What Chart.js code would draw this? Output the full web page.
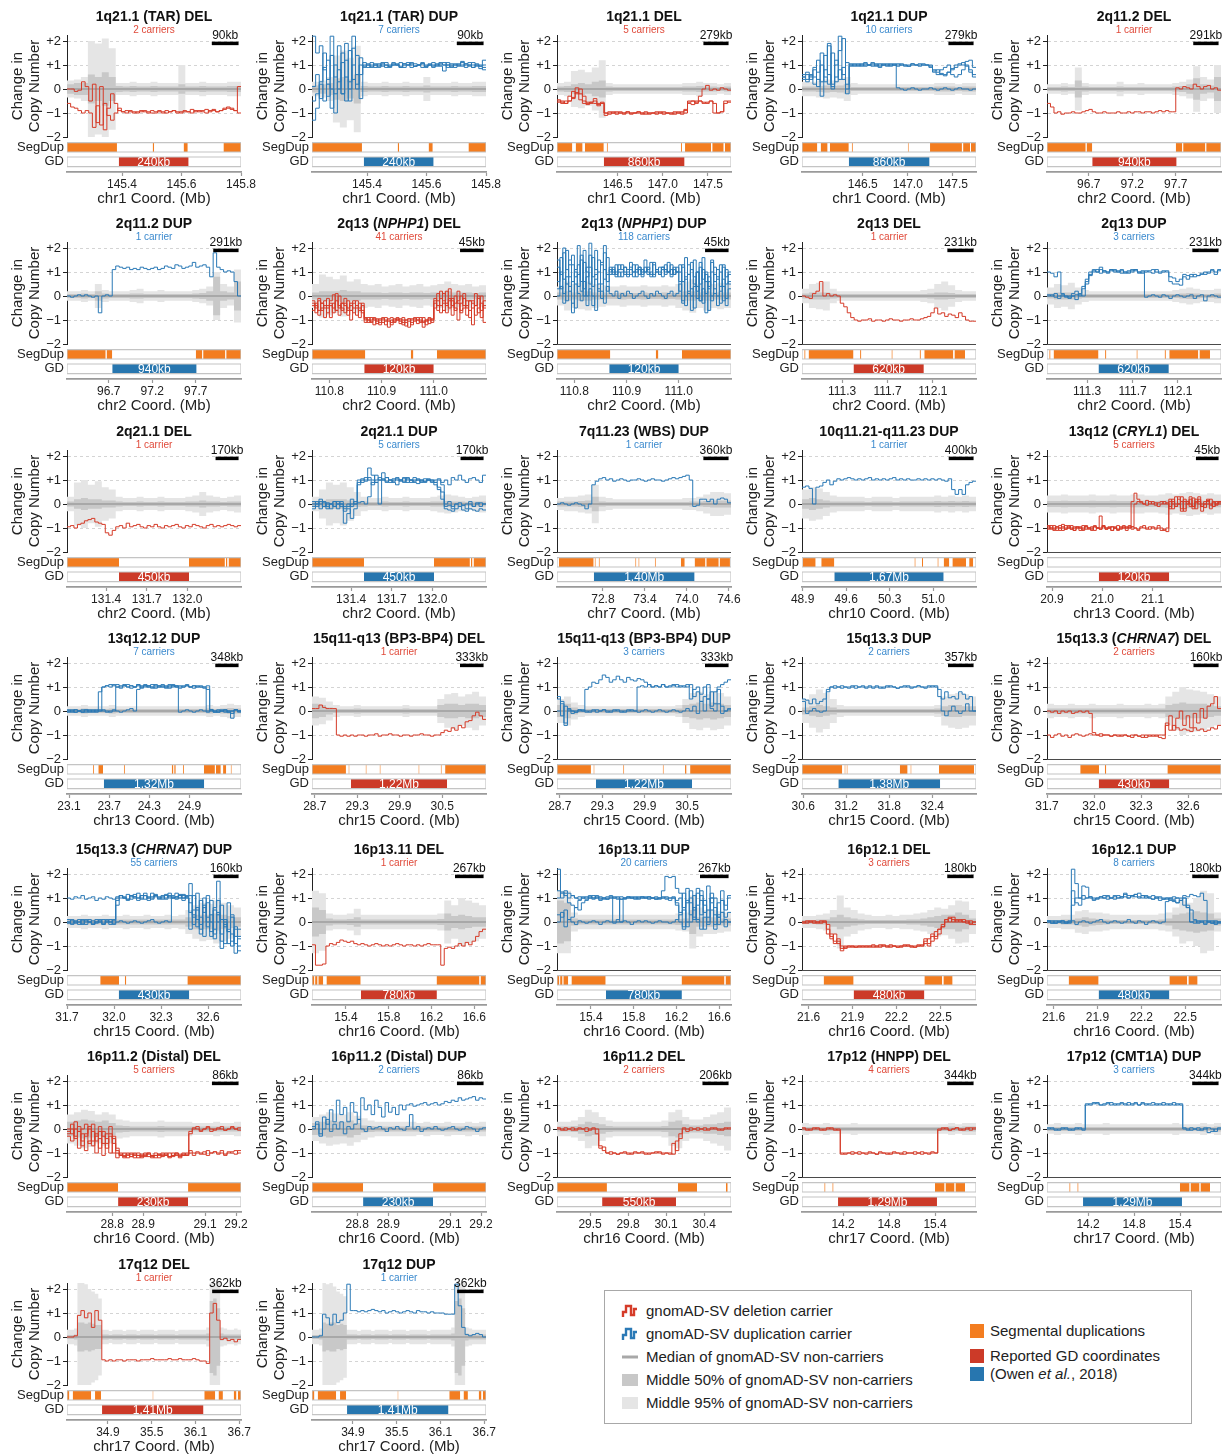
<!DOCTYPE html>
<html><head><meta charset="utf-8">
<script src="https://cdn.jsdelivr.net/npm/chart.js@4.4.1/dist/chart.umd.min.js"></script>
<style>
body{margin:0;background:#fff;font-family:'Liberation Sans',Arial,Helvetica,sans-serif;}
#wrap{position:relative;width:1227px;height:1456px;overflow:hidden;background:#fff;}
.panel{position:absolute;width:245px;height:208px;}
.panel canvas{position:absolute;left:0;top:0;}
.ttl{position:absolute;left:0;width:308px;top:7px;text-align:center;font-weight:bold;font-size:14px;line-height:18px;white-space:nowrap;color:#111;}
.sub{position:absolute;left:0;width:308px;top:24px;text-align:center;font-size:10px;line-height:12px;white-space:nowrap;}
#legend{position:absolute;left:604px;top:1290px;width:588px;height:134px;border:1px solid #a8a8a8;box-sizing:border-box;}
.li{position:absolute;font-size:15px;line-height:18px;color:#222;white-space:nowrap;}
.ic{position:absolute;}
</style></head>
<body><div id="wrap"></div>
<script>
// ---------------- data ----------------
const panelTitles = ['1q21.1 (TAR) DEL','1q21.1 (TAR) DUP','1q21.1 DEL','1q21.1 DUP','2q11.2 DEL',
 '2q11.2 DUP','2q13 (<i>NPHP1</i>) DEL','2q13 (<i>NPHP1</i>) DUP','2q13 DEL','2q13 DUP',
 '2q21.1 DEL','2q21.1 DUP','7q11.23 (WBS) DUP','10q11.21-q11.23 DUP','13q12 (<i>CRYL1</i>) DEL',
 '13q12.12 DUP','15q11-q13 (BP3-BP4) DEL','15q11-q13 (BP3-BP4) DUP','15q13.3 DUP','15q13.3 (<i>CHRNA7</i>) DEL',
 '15q13.3 (<i>CHRNA7</i>) DUP','16p13.11 DEL','16p13.11 DUP','16p12.1 DEL','16p12.1 DUP',
 '16p11.2 (Distal) DEL','16p11.2 (Distal) DUP','16p11.2 DEL','17p12 (HNPP) DEL','17p12 (CMT1A) DUP',
 '17q12 DEL','17q12 DUP'];
const carrierLabels = ['2 carriers','7 carriers','5 carriers','10 carriers','1 carrier',
 '1 carrier','41 carriers','118 carriers','1 carrier','3 carriers',
 '1 carrier','5 carriers','1 carrier','1 carrier','5 carriers',
 '7 carriers','1 carrier','3 carriers','2 carriers','2 carriers',
 '55 carriers','1 carrier','20 carriers','3 carriers','8 carriers',
 '5 carriers','2 carriers','2 carriers','4 carriers','3 carriers',
 '1 carrier','1 carrier'];
const svTypes = ['DEL','DUP','DEL','DUP','DEL','DUP','DEL','DUP','DEL','DUP','DEL','DUP','DUP','DUP','DEL',
 'DUP','DEL','DUP','DUP','DEL','DUP','DEL','DUP','DEL','DUP','DEL','DUP','DEL','DEL','DUP','DEL','DUP'];
const scaleBarKb = [90,90,279,279,291,291,45,45,231,231,170,170,360,400,45,348,333,333,357,160,160,267,267,180,180,86,86,206,344,344,362,362];
const chromNames = ['chr1','chr1','chr1','chr1','chr2','chr2','chr2','chr2','chr2','chr2','chr2','chr2','chr7','chr10','chr13',
 'chr13','chr15','chr15','chr15','chr15','chr15','chr16','chr16','chr16','chr16','chr16','chr16','chr16','chr17','chr17','chr17','chr17'];
const xMinMb = [145.215,145.215,145.826,145.826,96.22,96.22,110.767,110.767,110.946,110.946,131.111,131.111,72.144,48.89,20.89,
 23.07,28.66,28.66,30.583,31.7,31.7,15.083,15.083,21.555,21.555,28.654,28.654,29.239,13.664,13.664,34.34,34.34];
const xMaxMb = [145.8,145.8,147.756,147.756,98.22,98.22,111.1,111.1,112.48,112.48,132.396,132.396,74.63,51.69,21.236,
 25.67,31.12,31.12,33.01,32.81,32.81,16.709,16.709,22.745,22.745,29.216,29.216,30.612,15.934,15.934,36.724,36.724];
const xTickMb = [[145.4,145.6,145.8],[145.4,145.6,145.8],[146.5,147.0,147.5],[146.5,147.0,147.5],[96.7,97.2,97.7],
 [96.7,97.2,97.7],[110.8,110.9,111.0],[110.8,110.9,111.0],[111.3,111.7,112.1],[111.3,111.7,112.1],
 [131.4,131.7,132.0],[131.4,131.7,132.0],[72.8,73.4,74.0,74.6],[48.9,49.6,50.3,51.0],[20.9,21.0,21.1],
 [23.1,23.7,24.3,24.9],[28.7,29.3,29.9,30.5],[28.7,29.3,29.9,30.5],[30.6,31.2,31.8,32.4],[31.7,32.0,32.3,32.6],
 [31.7,32.0,32.3,32.6],[15.4,15.8,16.2,16.6],[15.4,15.8,16.2,16.6],[21.6,21.9,22.2,22.5],[21.6,21.9,22.2,22.5],
 [28.8,28.9,29.1,29.2],[28.8,28.9,29.1,29.2],[29.5,29.8,30.1,30.4],[14.2,14.8,15.4],[14.2,14.8,15.4],
 [34.9,35.5,36.1,36.7],[34.9,35.5,36.1,36.7]];
const gdMb = [[145.389,145.624],[145.389,145.624],[146.345,147.241],[146.345,147.241],[96.74,97.71],
 [96.74,97.71],[110.867,111.0],[110.867,111.0],[111.40,112.02],[111.40,112.02],
 [131.495,132.012],[131.495,132.012],[72.67,74.11],[49.41,51.17],[20.993,21.133],
 [23.62,25.12],[29.21,30.57],[29.21,30.57],[31.09,32.51],[32.03,32.48],
 [32.03,32.48],[15.54,16.25],[15.54,16.25],[21.908,22.392],[21.908,22.392],
 [28.819,29.045],[28.819,29.045],[29.595,30.178],[14.134,15.425],[14.134,15.425],
 [34.82,36.21],[34.82,36.21]];
const gdLabels = ['240kb','240kb','860kb','860kb','940kb','940kb','120kb','120kb','620kb','620kb','450kb','450kb','1.40Mb','1.67Mb','120kb',
 '1.32Mb','1.22Mb','1.22Mb','1.38Mb','430kb','430kb','780kb','780kb','480kb','480kb','230kb','230kb','550kb','1.29Mb','1.29Mb','1.41Mb','1.41Mb'];
const segDupMb = [
 [[145.215,145.383],[145.503,145.508],[145.607,145.621],[145.741,145.8]],
 [[145.215,145.383],[145.503,145.508],[145.607,145.621],[145.741,145.8]],
 [[145.826,145.996],[146.033,146.110],[146.135,146.345],[146.378,146.39],[147.2,147.212],[147.246,147.535],[147.548,147.675],[147.688,147.756]],
 [[145.826,145.996],[146.033,146.110],[146.135,146.345],[146.378,146.39],[147.0,147.01],[147.246,147.6],[147.613,147.69],[147.7,147.756]],
 [[96.22,96.665],[96.675,96.74],[97.70,97.775],[97.785,98.04],[98.05,98.22]],
 [[96.22,96.665],[96.675,96.74],[97.70,97.775],[97.785,98.04],[98.05,98.22]],
 [[110.767,110.869],[110.956,110.961],[111.006,111.1]],
 [[110.767,110.869],[110.956,110.961],[111.006,111.1]],
 [[110.966,110.977],[111.004,111.40],[111.458,111.469],[111.735,111.745],[111.983,111.994],[112.024,112.28],[112.29,112.383]],
 [[110.966,110.977],[111.004,111.40],[111.458,111.469],[111.735,111.745],[111.983,111.994],[112.024,112.28],[112.29,112.383]],
 [[131.111,131.495],[132.012,132.277],[132.285,132.296],[132.304,132.396]],
 [[131.111,131.495],[132.012,132.277],[132.285,132.296],[132.304,132.396]],
 [[72.171,72.668],[72.682,72.697],[72.74,72.755],[73.262,73.277],[73.307,73.322],[73.542,73.556],[73.914,73.969],[74.11,74.265],[74.277,74.455],[74.467,74.615]],
 [[48.90,49.11],[49.20,49.41],[50.70,50.718],[50.82,50.838],[51.07,51.088],[51.17,51.26],[51.31,51.53],[51.58,51.645]],
 [],
 [[23.46,23.475],[23.538,23.608],[23.92,23.935],[24.635,24.66],[24.672,24.695],[24.802,24.817],[25.116,25.28],[25.296,25.368],[25.402,25.449],[25.516,25.531]],
 [[28.66,29.14],[29.176,29.19],[29.418,29.432],[29.616,29.63],[30.165,30.179],[30.48,30.494],[30.542,31.12]],
 [[28.66,29.14],[29.176,29.19],[29.596,29.61],[30.155,30.169],[30.47,30.484],[30.49,30.5],[30.542,31.12]],
 [[30.583,31.144],[31.176,31.19],[31.205,31.219],[31.947,32.056],[32.096,32.11],[32.493,32.983]],
 [[31.912,32.032],[32.069,32.078],[32.468,32.81]],
 [[31.912,32.032],[32.069,32.078],[32.468,32.81]],
 [[15.083,15.105],[15.112,15.135],[15.142,15.188],[15.218,15.538],[16.247,16.648],[16.658,16.709]],
 [[15.083,15.105],[15.112,15.135],[15.142,15.188],[15.218,15.538],[16.247,16.648],[16.658,16.709]],
 [[21.703,21.908],[22.392,22.514],[22.522,22.585]],
 [[21.703,21.908],[22.392,22.514],[22.522,22.585]],
 [[28.654,28.819],[29.045,29.216]],
 [[28.654,28.819],[29.045,29.216]],
 [[29.239,29.633],[30.193,30.344],[30.572,30.586]],
 [[13.955,13.97],[14.06,14.075],[15.398,15.524],[15.536,15.654],[15.666,15.791]],
 [[13.955,13.97],[14.06,14.075],[15.398,15.524],[15.536,15.654],[15.666,15.791]],
 [[34.34,34.373],[34.418,34.671],[34.724,34.807],[35.512,35.524],[36.221,36.371],[36.416,36.476],[36.624,36.662],[36.681,36.724]],
 [[34.34,34.373],[34.418,34.671],[34.724,34.807],[35.512,35.524],[36.221,36.371],[36.416,36.476],[36.624,36.662],[36.681,36.724]]
];
// non-carrier half-widths (middle 95% and middle 50%), equal bins across each panel
const nonCarrier95 = [
 [0.35,0.4,0.5,2.0,1.9,2.1,1.7,0.25,0.25,0.3,0.25,0.25,0.3,0.25,0.25,0.25,1.0,0.25,0.25,0.3,0.25,0.25,0.25,0.3,0.3],
 [0.3,0.35,0.5,1.4,1.6,1.3,1.8,0.3,0.25,0.25,0.3,0.25,0.25,0.3,0.25,0.25,0.5,0.25,0.25,0.25,0.3,0.25,0.25,0.3,0.3],
 [0.25,0.3,0.75,0.8,0.7,0.9,1.2,0.25,0.2,0.2,0.2,0.2,0.2,0.2,0.2,0.2,0.2,0.2,0.25,0.25,0.3,0.25,0.25,0.2,0.25],
 [0.3,0.3,0.35,0.4,0.35,0.4,0.5,0.25,0.2,0.2,0.2,0.2,0.2,0.2,0.2,0.2,0.2,0.2,0.2,0.25,0.25,0.25,0.2,0.25,0.25],
 [0.2,0.2,0.25,0.2,0.9,0.25,0.2,0.2,0.2,0.2,0.3,0.2,0.2,0.25,0.2,0.2,0.2,0.2,0.25,0.3,0.4,0.95,0.5,0.4,1.0],
 [0.2,0.2,0.25,0.2,0.5,0.25,0.2,0.2,0.2,0.25,0.3,0.2,0.2,0.25,0.2,0.2,0.2,0.2,0.25,0.3,0.4,1.0,0.5,0.4,1.1],
 [0.5,0.9,0.8,0.7,0.85,0.6,0.7,0.5,0.45,0.5,0.4,0.45,0.5,0.4,0.45,0.5,0.4,0.45,0.5,0.6,0.5,0.45,0.5,0.4,0.45],
 [0.4,0.6,0.5,0.55,0.6,0.5,0.45,0.4,0.4,0.45,0.4,0.4,0.45,0.4,0.4,0.45,0.4,0.5,0.6,0.7,0.5,0.6,0.5,0.55,0.5],
 [0.3,0.5,0.55,0.6,0.3,0.2,0.2,0.2,0.2,0.2,0.2,0.2,0.2,0.2,0.2,0.2,0.2,0.25,0.3,0.5,0.6,0.45,0.25,0.2,0.2],
 [0.35,0.5,0.45,0.55,0.35,0.25,0.2,0.2,0.2,0.2,0.2,0.2,0.2,0.2,0.2,0.2,0.2,0.2,0.25,0.3,0.35,0.3,0.25,0.25,0.3],
 [0.3,0.9,1.0,0.8,0.95,0.7,0.6,0.3,0.25,0.25,0.3,0.25,0.25,0.3,0.25,0.25,0.25,0.3,0.35,0.5,0.35,0.3,0.25,0.3,0.35],
 [0.3,0.6,0.9,0.8,0.9,0.7,0.5,0.3,0.25,0.25,0.3,0.25,0.25,0.3,0.25,0.25,0.25,0.3,0.35,0.4,0.35,0.3,0.25,0.3,0.35],
 [0.25,0.3,0.3,0.35,0.4,0.8,0.3,0.25,0.2,0.2,0.2,0.2,0.2,0.2,0.2,0.2,0.2,0.2,0.25,0.25,0.3,0.4,0.5,0.5,0.45],
 [0.6,0.7,0.65,0.5,0.35,0.3,0.3,0.3,0.3,0.25,0.3,0.3,0.3,0.25,0.3,0.3,0.3,0.3,0.3,0.35,0.3,0.35,0.3,0.35,0.3],
 [0.35,0.35,0.4,0.35,0.35,0.35,0.4,0.35,0.35,0.4,0.35,0.35,0.4,0.4,0.35,0.35,0.4,0.45,0.4,0.45,0.5,0.45,0.4,0.45,0.4],
 [0.2,0.2,0.25,0.2,0.2,0.2,0.25,0.2,0.2,0.2,0.2,0.2,0.2,0.2,0.2,0.2,0.2,0.2,0.2,0.2,0.25,0.2,0.25,0.3,0.25],
 [0.6,0.55,0.4,0.25,0.2,0.2,0.25,0.2,0.2,0.2,0.2,0.2,0.2,0.25,0.2,0.2,0.2,0.2,0.5,0.7,0.75,0.6,0.7,0.8,0.6],
 [0.5,0.6,0.35,0.25,0.2,0.2,0.2,0.2,0.2,0.2,0.2,0.2,0.2,0.2,0.2,0.2,0.2,0.25,0.5,0.75,0.8,0.7,0.8,0.75,0.6],
 [0.5,0.7,0.9,0.75,0.5,0.25,0.2,0.2,0.2,0.2,0.2,0.2,0.2,0.2,0.2,0.2,0.2,0.2,0.2,0.25,0.6,0.7,0.75,0.7,0.6],
 [0.3,0.25,0.25,0.3,0.25,0.25,0.3,0.25,0.25,0.25,0.3,0.25,0.25,0.25,0.3,0.25,0.3,0.6,0.8,1.0,0.9,0.85,0.8,0.7,0.6],
 [0.25,0.25,0.3,0.25,0.25,0.3,0.25,0.25,0.3,0.25,0.25,0.3,0.25,0.25,0.3,0.25,0.3,0.5,0.7,0.8,0.75,0.9,0.8,0.7,0.6],
 [1.3,1.2,0.35,0.3,0.3,0.35,0.55,0.3,0.3,0.3,0.3,0.3,0.3,0.3,0.3,0.3,0.3,0.3,0.35,0.9,0.7,1.0,0.9,0.8,0.7],
 [1.3,1.3,0.4,0.3,0.3,0.3,0.3,0.3,0.3,0.3,0.3,0.3,0.3,0.3,0.3,0.3,0.3,0.35,0.4,1.1,0.6,0.5,0.5,0.45,0.4],
 [0.25,0.25,0.3,0.35,0.5,1.1,0.6,0.5,0.35,0.3,0.25,0.25,0.3,0.25,0.3,0.3,0.35,0.4,0.5,0.6,0.55,0.7,0.9,0.85,0.5],
 [0.25,0.25,0.3,0.3,0.45,0.5,0.4,0.4,0.35,0.3,0.3,0.3,0.3,0.3,0.3,0.3,0.35,0.4,0.6,0.9,0.8,1.0,1.3,1.2,0.4],
 [0.6,0.7,0.8,0.75,0.6,0.7,0.6,0.4,0.35,0.3,0.3,0.3,0.3,0.35,0.3,0.3,0.3,0.3,0.25,0.25,0.25,0.3,0.25,0.25,0.3],
 [0.5,0.6,0.7,0.65,0.6,0.7,0.55,0.45,0.35,0.3,0.3,0.3,0.3,0.3,0.3,0.25,0.3,0.25,0.25,0.3,0.25,0.25,0.3,0.25,0.3],
 [0.3,0.3,0.35,0.5,0.8,0.7,0.5,0.35,0.3,0.3,0.3,0.3,0.3,0.3,0.3,0.35,0.7,0.8,0.5,0.4,0.4,0.5,0.6,0.7,0.9],
 [0.25,0.2,0.2,0.25,0.2,0.2,0.2,0.25,0.2,0.2,0.2,0.2,0.2,0.2,0.2,0.2,0.2,0.2,0.2,0.2,0.2,0.25,0.2,0.25,0.25],
 [0.2,0.25,0.2,0.2,0.25,0.2,0.2,0.2,0.25,0.2,0.2,0.2,0.2,0.2,0.2,0.2,0.2,0.2,0.25,0.2,0.2,0.2,0.25,0.2,0.25],
 [0.3,0.3,0.35,2.3,2.3,2.2,2.0,1.9,1.8,1.6,0.3,0.3,0.25,0.3,0.3,0.3,0.25,0.3,0.3,0.3,0.25,0.3,0.3,0.3,0.3,0.25,0.3,0.3,0.3,0.3,0.3,0.25,0.3,0.3,0.3,0.3,0.3,0.3,0.3,0.3,0.4,2.3,2.8,2.4,0.4,0.35,0.3,0.3,0.35,0.3],
 [0.3,0.3,0.35,2.3,2.2,2.3,2.1,1.9,1.8,1.7,0.3,0.3,0.3,0.25,0.3,0.3,0.3,0.25,0.3,0.3,0.3,0.3,0.25,0.3,0.3,0.3,0.3,0.25,0.3,0.3,0.3,0.3,0.3,0.25,0.3,0.3,0.3,0.3,0.3,0.3,0.4,2.3,2.8,2.4,0.4,0.35,0.3,0.3,0.3,0.3]
];
const nonCarrier50 = [
 [0.2,0.25,0.25,0.6,0.5,0.7,0.5,0.12,0.1,0.12,0.1,0.1,0.12,0.1,0.1,0.1,0.2,0.1,0.1,0.12,0.1,0.1,0.1,0.12,0.12],
 [0.15,0.2,0.25,0.45,0.5,0.4,0.6,0.12,0.1,0.1,0.12,0.1,0.1,0.12,0.1,0.1,0.15,0.1,0.1,0.1,0.12,0.1,0.1,0.12,0.12],
 [0.1,0.12,0.2,0.25,0.2,0.3,0.35,0.1,0.08,0.08,0.08,0.08,0.08,0.08,0.08,0.08,0.08,0.08,0.1,0.1,0.12,0.1,0.1,0.08,0.1],
 [0.1,0.1,0.12,0.15,0.12,0.15,0.2,0.08,0.08,0.08,0.08,0.08,0.08,0.08,0.08,0.08,0.08,0.08,0.08,0.1,0.1,0.1,0.08,0.1,0.1],
 [0.08,0.08,0.1,0.08,0.35,0.1,0.08,0.08,0.08,0.08,0.1,0.08,0.08,0.08,0.08,0.08,0.08,0.08,0.1,0.12,0.2,0.45,0.2,0.15,0.5],
 [0.08,0.08,0.1,0.08,0.2,0.1,0.08,0.08,0.08,0.1,0.1,0.08,0.08,0.08,0.08,0.08,0.08,0.08,0.1,0.12,0.2,0.8,0.2,0.15,0.6],
 [0.15,0.2,0.2,0.2,0.25,0.2,0.2,0.15,0.15,0.15,0.12,0.15,0.15,0.12,0.15,0.15,0.12,0.15,0.15,0.2,0.15,0.15,0.15,0.12,0.15],
 [0.15,0.2,0.15,0.2,0.2,0.15,0.15,0.12,0.12,0.15,0.12,0.12,0.15,0.12,0.12,0.15,0.12,0.15,0.2,0.2,0.15,0.2,0.15,0.15,0.15],
 [0.1,0.15,0.15,0.15,0.1,0.08,0.08,0.08,0.08,0.08,0.08,0.08,0.08,0.08,0.08,0.08,0.08,0.08,0.1,0.15,0.15,0.12,0.08,0.08,0.08],
 [0.1,0.15,0.15,0.15,0.1,0.08,0.08,0.08,0.08,0.08,0.08,0.08,0.08,0.08,0.08,0.08,0.08,0.08,0.08,0.1,0.12,0.1,0.08,0.08,0.1],
 [0.1,0.2,0.25,0.2,0.2,0.15,0.15,0.1,0.08,0.08,0.1,0.08,0.08,0.1,0.08,0.08,0.08,0.1,0.1,0.15,0.1,0.1,0.08,0.1,0.1],
 [0.1,0.15,0.2,0.2,0.2,0.15,0.12,0.1,0.08,0.08,0.1,0.08,0.08,0.1,0.08,0.08,0.08,0.1,0.1,0.12,0.1,0.1,0.08,0.1,0.1],
 [0.1,0.1,0.1,0.12,0.15,0.3,0.1,0.08,0.08,0.08,0.08,0.08,0.08,0.08,0.08,0.08,0.08,0.08,0.08,0.1,0.1,0.12,0.15,0.15,0.15],
 [0.2,0.25,0.2,0.15,0.1,0.1,0.1,0.1,0.1,0.08,0.1,0.1,0.1,0.08,0.1,0.1,0.1,0.1,0.1,0.12,0.1,0.12,0.1,0.12,0.1],
 [0.12,0.12,0.14,0.12,0.12,0.12,0.14,0.12,0.12,0.14,0.12,0.12,0.14,0.14,0.12,0.12,0.14,0.16,0.14,0.16,0.18,0.16,0.14,0.16,0.14],
 [0.08,0.08,0.1,0.08,0.08,0.08,0.1,0.08,0.08,0.08,0.08,0.08,0.08,0.08,0.08,0.08,0.08,0.08,0.08,0.08,0.1,0.08,0.1,0.12,0.1],
 [0.3,0.25,0.15,0.08,0.08,0.08,0.1,0.08,0.08,0.08,0.08,0.08,0.08,0.1,0.08,0.08,0.08,0.08,0.25,0.3,0.3,0.25,0.3,0.3,0.25],
 [0.25,0.3,0.15,0.08,0.08,0.08,0.08,0.08,0.08,0.08,0.08,0.08,0.08,0.08,0.08,0.08,0.08,0.1,0.25,0.3,0.35,0.3,0.35,0.3,0.25],
 [0.15,0.2,0.25,0.2,0.15,0.08,0.08,0.08,0.08,0.08,0.08,0.08,0.08,0.08,0.08,0.08,0.08,0.08,0.08,0.1,0.2,0.25,0.25,0.2,0.2],
 [0.1,0.1,0.1,0.1,0.1,0.1,0.1,0.1,0.1,0.1,0.1,0.1,0.1,0.1,0.1,0.1,0.1,0.25,0.3,0.35,0.3,0.3,0.3,0.25,0.2],
 [0.1,0.1,0.1,0.1,0.1,0.1,0.1,0.1,0.1,0.1,0.1,0.1,0.1,0.1,0.1,0.1,0.1,0.2,0.3,0.3,0.3,0.35,0.3,0.25,0.2],
 [0.6,0.5,0.15,0.1,0.1,0.12,0.2,0.1,0.1,0.1,0.1,0.1,0.1,0.1,0.1,0.1,0.1,0.1,0.12,0.35,0.25,0.3,0.25,0.2,0.2],
 [0.9,0.8,0.15,0.1,0.1,0.1,0.1,0.1,0.1,0.1,0.1,0.1,0.1,0.1,0.1,0.1,0.1,0.12,0.15,0.5,0.2,0.2,0.2,0.15,0.15],
 [0.08,0.08,0.1,0.1,0.2,0.3,0.2,0.15,0.1,0.08,0.08,0.08,0.08,0.08,0.08,0.1,0.1,0.15,0.2,0.25,0.3,0.3,0.4,0.3,0.15],
 [0.08,0.08,0.1,0.1,0.15,0.2,0.15,0.12,0.1,0.08,0.08,0.08,0.08,0.08,0.08,0.08,0.1,0.15,0.3,0.35,0.4,0.45,0.4,0.35,0.15],
 [0.3,0.35,0.4,0.35,0.3,0.35,0.25,0.15,0.12,0.1,0.1,0.1,0.1,0.12,0.1,0.1,0.1,0.1,0.1,0.1,0.1,0.1,0.1,0.1,0.1],
 [0.25,0.3,0.35,0.3,0.3,0.35,0.25,0.15,0.12,0.1,0.1,0.1,0.1,0.1,0.1,0.1,0.1,0.1,0.1,0.1,0.1,0.1,0.1,0.1,0.1],
 [0.1,0.1,0.12,0.2,0.3,0.25,0.2,0.12,0.1,0.1,0.1,0.1,0.1,0.1,0.1,0.12,0.3,0.35,0.2,0.15,0.15,0.2,0.2,0.25,0.3],
 [0.08,0.08,0.08,0.08,0.08,0.08,0.08,0.08,0.08,0.08,0.08,0.08,0.08,0.08,0.08,0.08,0.08,0.08,0.08,0.08,0.08,0.1,0.08,0.1,0.1],
 [0.08,0.08,0.08,0.08,0.08,0.08,0.08,0.08,0.08,0.08,0.08,0.08,0.08,0.08,0.08,0.08,0.08,0.08,0.08,0.08,0.08,0.08,0.1,0.08,0.1],
 [0.08,0.08,0.1,0.6,0.6,0.55,0.6,0.55,0.5,0.5,0.1,0.1,0.08,0.1,0.1,0.1,0.08,0.1,0.1,0.1,0.08,0.1,0.1,0.1,0.1,0.08,0.1,0.1,0.1,0.1,0.1,0.08,0.1,0.1,0.1,0.1,0.1,0.1,0.1,0.1,0.15,1.5,1.6,1.2,0.15,0.1,0.1,0.1,0.1,0.1],
 [0.08,0.08,0.1,0.6,0.55,0.6,0.6,0.5,0.55,0.5,0.1,0.1,0.1,0.08,0.1,0.1,0.1,0.08,0.1,0.1,0.1,0.1,0.08,0.1,0.1,0.1,0.1,0.08,0.1,0.1,0.1,0.1,0.1,0.08,0.1,0.1,0.1,0.1,0.1,0.1,0.15,1.5,1.6,1.2,0.15,0.1,0.1,0.1,0.1,0.1]
];
// carrier copy-number traces, equal bins across each panel
const carrierTraces = [
 [ // 0
  [0.0,0.0,-0.1,-0.05,0.3,0.1,-0.5,0.2,-1.4,0.1,-1.7,-0.8,-0.2,-0.6,-0.9,-0.95,-0.9,-0.95,-1.0,-0.95,-0.9,-0.95,-1.0,-0.9,-0.95,-0.95,-1.0,-0.9,-0.95,-0.9,-1.0,-0.95,-0.9,-0.95,-0.85,-0.95,-0.9,-0.95,-1.0,-0.9,-0.85,-0.95,-0.9,-0.85,-0.8,-0.85,-0.9,0.1],
  [-0.6,-0.75,-0.8,-0.9,-1.0,-0.9,-1.0,-1.6,-0.7,-1.5,-0.6,-1.1,-1.3,-1.0,-0.8,-0.95,-1.0,-0.9,-0.95,-1.0,-0.95,-0.9,-0.95,-1.0,-1.0,-0.9,-0.95,-1.0,-0.95,-0.9,-0.95,-1.0,-0.95,-0.95,-1.0,-0.9,-0.95,-0.9,-0.85,-0.95,-0.9,-0.95,-0.9,-0.8,-0.75,-0.8,-0.9,-1.0]
 ],
 [ // 1
  [-0.5,-0.2,0.3,1.5,-0.3,2.2,0.5,1.8,-0.2,1.2,0.3,2.2,0.6,1.0,0.9,1.0,0.95,1.05,0.9,1.0,1.1,0.95,1.0,1.05,0.9,1.0,1.0,1.1,0.95,1.0,1.05,0.9,1.0,1.1,1.0,0.95,0.75,1.0,1.05,0.9,1.0,1.1,1.0,0.95,0.9,1.0,0.85,0.9],
  [2.2,1.5,1.8,0.8,0.2,-0.8,1.0,0.0,1.5,-0.5,1.6,0.4,1.4,-0.4,1.0,0.9,1.1,1.0,0.95,1.05,0.9,1.0,1.1,1.0,0.95,1.05,1.0,0.9,1.05,1.0,1.1,0.95,1.0,0.95,1.05,1.0,1.0,1.1,0.9,1.0,1.05,1.15,0.9,1.0,1.1,0.95,1.0,1.2],
  [-1.3,-0.8,0.2,-0.5,1.2,0.0,-1.0,0.8,-0.2,1.9,-0.5,1.0,0.0,0.6,1.1,1.0,0.9,1.0,1.05,0.95,1.0,0.9,1.05,1.0,1.1,0.9,1.0,1.05,0.95,1.0,0.9,1.0,1.05,1.0,0.95,1.1,1.0,0.9,1.0,1.05,0.95,1.0,1.05,1.0,0.9,1.0,0.95,0.8],
  [0.1,0.6,-0.4,0.9,0.4,1.4,-0.2,0.3,1.1,0.5,0.0,1.7,0.2,1.3,0.95,1.05,1.0,0.9,1.0,1.1,1.0,0.95,1.0,1.0,0.9,1.05,1.1,1.0,0.95,1.0,1.05,0.95,1.0,0.9,1.0,1.05,1.1,1.0,0.95,1.0,1.0,0.95,1.05,1.1,1.0,1.05,0.95,1.0]
 ],
 [ // 2
  [-0.5,-0.55,-0.6,-0.5,-0.1,-0.2,0.0,-0.5,-0.6,-0.55,-0.4,-0.6,-0.55,-1.0,-0.95,-1.0,-0.95,-1.0,-1.0,-0.95,-1.0,-1.0,-0.95,-1.0,-1.0,-1.05,-1.0,-1.0,-0.95,-1.0,-1.0,-1.05,-1.0,-0.95,-1.0,-1.0,-0.5,-0.5,-0.55,-0.5,-0.6,-0.55,-0.5,-1.0,-1.0,-0.95,-0.5,-0.55],
  [-0.45,-0.6,-0.5,-0.3,-0.4,0.05,-0.2,-0.3,-0.55,-0.6,-0.6,-0.7,-0.6,-1.1,-1.0,-1.0,-1.05,-0.95,-1.0,-1.0,-1.05,-1.0,-0.95,-1.0,-1.05,-1.0,-1.0,-0.95,-1.0,-1.05,-1.0,-1.0,-0.95,-1.0,-1.05,-0.9,-0.6,-0.65,-0.5,-0.3,0.0,0.15,-0.05,0.0,-0.05,0.05,0.0,-0.05],
  [-0.55,-0.5,-0.6,-0.5,-0.35,-0.15,-0.45,-0.6,-0.65,-0.55,-0.5,-0.65,-0.6,-1.0,-1.05,-0.95,-1.0,-1.0,-1.05,-0.95,-1.0,-1.0,-1.0,-1.05,-0.95,-1.0,-1.0,-1.05,-1.0,-0.95,-1.0,-1.0,-1.05,-1.0,-0.95,-0.85,-0.55,-0.5,-0.6,-0.5,-0.55,-0.6,-0.5,-0.6,-1.0,-0.95,-0.6,-0.5]
 ],
 [ // 3
  [0.5,0.6,0.4,0.5,0.7,1.5,0.3,1.8,0.2,1.0,2.2,0.4,0.0,1.0,1.05,0.95,1.0,1.1,1.0,1.05,0.95,1.0,1.05,1.0,0.95,1.0,1.05,1.0,1.0,0.95,1.05,1.0,1.0,1.05,1.0,0.95,0.7,0.6,0.65,0.6,0.7,0.8,0.9,1.0,1.1,1.0,0.7,0.5],
  [0.4,0.3,0.6,0.2,1.2,-0.3,0.8,1.9,0.1,0.5,1.6,2.1,-0.2,1.05,1.0,1.0,0.95,1.05,1.0,1.1,1.0,0.95,1.0,1.0,1.05,1.0,0.05,0.0,-0.05,0.0,0.05,0.0,-0.05,0.0,0.0,0.05,0.0,-0.05,0.0,0.05,0.0,-0.05,0.0,0.05,0.0,0.0,-0.05,0.0],
  [0.6,0.7,0.5,0.9,0.4,0.3,1.4,0.6,0.0,1.2,0.4,0.9,0.2,0.95,1.0,1.05,1.0,0.95,1.0,1.0,1.05,0.9,1.0,1.05,1.0,1.0,0.95,1.05,1.0,0.95,1.0,1.0,1.05,1.0,1.0,0.9,0.8,0.7,0.8,0.9,1.0,0.6,0.5,0.6,0.8,1.15,1.2,0.9],
  [0.5,0.4,0.55,0.8,0.1,1.0,0.5,0.2,1.5,0.3,0.8,0.6,1.1,1.0,0.95,1.0,1.05,1.0,1.0,0.95,1.0,1.05,1.0,0.95,1.0,1.05,1.0,1.0,0.95,1.0,1.05,1.0,0.95,1.0,1.0,1.0,0.75,0.8,0.6,0.55,0.7,0.85,1.0,1.05,1.0,0.95,0.8,0.6]
 ],
 [ // 4
  [-0.6,-0.75,-1.0,-0.95,-1.05,-1.0,-1.0,-0.95,-1.0,-1.0,-0.95,-0.9,-0.85,-0.95,-1.0,-1.0,-0.95,-1.0,-1.0,-1.0,-0.95,-1.0,-1.0,-0.95,-1.0,-0.95,-0.95,-1.0,-0.95,-0.95,-1.0,-0.95,-0.9,-0.95,-0.9,-0.95,-0.95,0.05,0.0,0.1,0.05,0.0,0.2,0.1,0.0,0.1,0.15,0.0,0.05,-0.05]
 ],
 [ // 5
  [0.0,-0.05,0.0,0.05,0.0,0.05,0.0,-0.05,0.0,-0.7,0.0,0.05,0.0,1.1,1.25,1.2,1.15,1.2,1.1,1.15,1.1,1.2,1.15,1.1,1.15,1.2,1.1,1.15,1.25,1.2,1.15,1.3,1.25,1.15,1.2,1.25,1.4,1.2,1.25,1.3,1.2,0.8,1.8,1.2,1.1,1.0,1.05,1.0,0.6,0.0]
 ],
 [ // 6
  [-0.3,-0.5,-0.2,-0.6,-0.4,-0.7,-0.3,-0.5,0.1,-0.4,-0.6,-0.3,-0.8,-0.4,-0.5,-0.2,-0.6,-0.4,-0.9,-1.0,-1.1,-0.95,-1.0,-1.2,-0.9,-1.05,-1.0,-1.1,-0.95,-1.0,-1.15,-0.9,-1.0,-1.05,-1.2,-0.95,-1.0,-1.1,-0.9,-1.05,-1.0,-0.95,-0.2,0.1,-0.4,-0.3,0.2,-0.5,-0.1,-0.6,-0.2,0.0,-0.4,-0.8,-0.2,-0.5,0.1,-0.7,-0.3,-0.5],
  [-0.6,-0.3,-0.8,-0.5,-0.2,-0.4,-0.9,-0.3,-0.6,0.0,-0.5,-0.7,-0.2,-0.6,-0.3,-0.8,-0.5,-0.7,-1.0,-0.9,-1.05,-1.2,-0.95,-1.0,-1.1,-0.9,-1.3,-1.0,-1.05,-0.95,-1.0,-1.1,-1.25,-0.95,-1.0,-0.9,-1.15,-1.0,-1.05,-1.2,-0.9,-1.0,-0.1,-0.4,0.2,-0.6,-0.3,0.3,-0.2,-0.5,-1.0,-0.3,0.1,-0.4,-0.2,-1.2,-0.4,0.0,-0.6,-0.2],
  [-0.4,-0.7,-0.1,-0.3,-0.9,-0.5,-0.2,0.05,-0.6,-0.8,-0.3,-0.4,-0.6,-1.0,-0.2,-0.5,-0.3,-0.6,-1.1,-1.0,-0.9,-1.0,-1.15,-0.95,-1.0,-1.2,-0.95,-0.9,-1.1,-1.0,-0.95,-1.0,-1.1,-1.3,-0.95,-1.05,-1.0,-0.9,-1.1,-1.0,-1.15,-1.0,-0.5,-0.2,-0.7,0.1,-0.4,-0.2,-0.8,0.0,-0.3,-0.6,-0.1,-0.5,-0.9,-0.2,-0.4,-0.1,-0.9,-0.4],
  [-0.2,-0.4,-0.6,-0.3,-0.5,-0.1,-0.4,-0.7,-0.2,-0.5,-0.3,-0.1,-0.5,-0.3,-0.7,-0.4,-0.9,-0.3,-0.95,-1.1,-1.0,-0.9,-1.05,-1.1,-0.95,-1.0,-1.05,-1.2,-1.0,-0.9,-1.05,-1.2,-1.0,-0.95,-1.1,-1.0,-0.9,-1.05,-1.3,-1.0,-0.95,-1.1,-0.3,-0.6,-0.1,-0.2,-0.7,-0.1,-0.4,-0.3,0.2,-0.7,-0.5,-0.2,-0.6,-0.3,-0.8,-0.5,0.0,-1.1]
 ],
 [ // 7
  [1.2,0.3,1.8,0.5,1.5,-0.3,1.1,2.1,0.6,1.4,0.0,1.7,0.8,1.9,0.2,1.3,0.7,1.6,1.0,1.2,0.8,1.1,1.3,0.9,1.0,1.4,0.8,1.1,1.2,0.9,1.5,1.0,0.8,1.3,1.1,0.9,1.2,1.0,1.4,0.9,1.1,1.0,0.2,1.3,-0.4,0.9,0.0,1.5,0.4,-0.2,1.1,0.6,-0.6,1.4,0.3,0.8,-0.3,1.2,0.5,0.9],
  [0.6,1.6,0.1,1.9,0.8,1.3,-0.5,0.9,1.7,0.3,1.2,2.2,0.4,0.9,1.5,-0.1,1.8,0.6,1.1,0.9,1.3,1.0,0.8,1.2,1.1,0.9,1.3,1.0,1.2,0.8,1.0,1.1,1.4,0.9,1.0,1.2,0.8,1.1,1.0,1.3,0.9,1.2,1.0,-0.2,0.7,1.3,0.3,-0.5,1.0,0.5,1.6,0.1,0.8,-0.2,1.2,0.0,1.0,0.4,-0.4,0.6],
  [0.0,0.4,-0.3,0.8,0.2,-0.7,0.5,0.1,-0.2,0.6,-0.4,0.3,0.0,-0.6,0.5,0.2,-0.3,0.4,0.1,0.0,0.2,-0.1,0.1,0.0,0.2,0.1,-0.1,0.0,0.1,0.2,0.0,-0.1,0.1,0.0,0.2,0.1,0.0,-0.1,0.1,0.2,0.0,0.1,0.5,-0.3,0.8,0.1,-0.6,0.4,1.0,-0.2,0.3,-0.7,0.6,0.0,0.9,-0.4,0.2,0.7,-0.1,0.3],
  [1.5,0.9,2.0,1.1,0.4,1.7,0.8,1.3,0.2,1.9,1.0,0.5,1.6,1.1,0.3,1.4,2.1,0.9,1.2,1.0,0.9,1.3,1.1,1.0,0.8,1.2,1.0,1.3,0.9,1.1,1.0,1.2,0.9,1.4,1.0,0.9,1.1,1.3,1.0,0.8,1.2,1.0,1.3,0.6,1.6,0.2,1.1,0.8,-0.1,1.4,0.7,1.0,0.3,1.5,0.6,1.1,0.4,1.3,0.8,1.0],
  [0.3,1.0,0.7,-0.2,1.3,0.6,1.0,0.4,1.5,0.0,0.8,1.2,-0.4,0.7,1.0,0.5,1.1,0.2,0.9,1.1,1.0,0.8,1.0,1.2,0.9,1.1,1.0,0.8,1.1,1.0,1.2,0.9,1.0,0.8,1.1,1.0,1.2,0.9,1.0,1.1,0.9,1.0,0.6,1.2,0.0,0.9,1.4,0.5,0.2,1.2,-0.3,0.9,0.4,1.0,0.1,0.7,1.3,-0.2,1.1,0.5]
 ],
 [ // 8
  [0.0,-0.05,-0.1,0.1,0.2,0.6,0.0,0.1,0.0,0.05,0.0,-0.3,-0.45,-0.7,-0.9,-1.0,-1.05,-1.0,-1.0,-0.95,-1.05,-1.0,-1.0,-1.05,-1.0,-0.95,-1.0,-1.0,-1.05,-1.0,-1.0,-0.95,-1.0,-1.0,-0.95,-0.9,-0.85,-0.7,-0.5,-0.75,-0.7,-0.85,-0.75,-0.8,-0.9,-0.7,-0.85,-1.0,-1.05,-1.05]
 ],
 [ // 9
  [1.0,0.95,0.8,1.0,0.1,0.0,-0.05,0.0,0.05,0.0,0.3,0.6,1.0,1.1,1.0,1.2,1.05,1.0,1.1,1.05,1.0,1.1,1.0,0.95,1.05,1.1,1.0,1.05,-0.05,0.0,0.05,0.0,-0.05,0.05,0.0,-0.1,0.0,0.05,0.0,-0.05,0.0,0.05,-0.1,0.0,0.05,-0.2,0.0,0.05,0.0,-0.05],
  [0.0,0.05,-0.05,0.0,0.05,0.0,-0.1,0.0,-0.15,0.1,0.4,0.7,0.9,1.05,1.0,1.1,1.0,0.95,1.05,1.1,1.0,1.05,0.95,1.0,1.1,1.05,1.0,0.95,1.0,1.05,1.1,1.0,0.95,1.0,1.05,0.6,0.5,0.5,0.45,0.8,0.7,0.9,0.8,0.85,0.9,1.0,0.95,1.1,1.0,1.05],
  [0.05,0.0,0.1,-0.1,0.0,-0.05,0.0,0.1,0.2,0.05,0.0,0.5,0.85,1.0,1.1,0.95,1.05,1.0,1.1,1.0,1.05,0.95,1.0,1.05,1.0,1.1,0.95,1.0,1.05,1.0,0.95,1.1,1.0,1.05,1.0,0.8,0.75,0.6,0.7,0.9,0.85,0.8,0.9,0.85,0.95,0.9,1.0,1.05,0.9,1.1]
 ],
 [ // 10
  [-0.95,-0.9,-1.0,-0.85,-0.8,-0.7,-0.65,-0.6,-0.75,-0.8,-0.85,-1.2,-1.3,-1.1,-0.95,-0.9,-1.0,-0.8,-0.95,-0.9,-0.85,-0.95,-1.0,-0.9,-0.95,-0.85,-0.95,-1.0,-0.9,-0.95,-0.9,-0.85,-0.95,-1.0,-0.9,-0.95,-0.85,-0.9,-0.95,-1.0,-0.9,-0.85,-0.95,-0.9,-0.95,-0.9,-0.85,-0.9,-0.95,-0.9]
 ],
 [ // 11
  [0.0,0.1,-0.2,0.05,-0.1,0.0,0.1,-0.2,0.0,-0.3,-0.2,-0.6,-0.2,1.0,0.9,1.1,1.0,0.8,1.2,1.0,1.3,1.1,1.0,0.95,1.1,1.0,1.05,0.9,1.0,1.1,1.0,0.95,0.9,1.05,1.0,0.9,0.7,0.5,-0.1,-0.05,-0.2,0.0,-0.1,-0.05,-0.2,0.0,-0.1,0.05,-0.1,0.0],
  [-0.1,0.0,0.2,-0.1,0.0,-0.2,0.1,0.0,-0.1,-0.8,-0.4,0.0,0.1,0.9,1.05,1.0,1.5,1.2,0.9,0.0,1.0,1.1,0.9,1.0,1.05,1.0,0.9,1.1,1.0,0.95,1.0,0.9,1.05,1.0,0.95,1.0,1.05,0.9,1.0,0.8,1.1,1.0,1.2,1.0,0.9,1.05,1.1,1.0,0.9,1.2],
  [0.1,-0.1,0.0,0.1,-0.2,0.0,-0.1,0.1,0.0,-0.2,-0.1,0.2,0.0,0.8,1.0,0.95,1.1,1.0,0.9,1.0,1.05,0.95,1.0,0.9,0.8,1.0,0.95,1.05,1.0,0.9,0.85,1.0,0.95,1.0,0.9,0.8,0.6,0.2,-0.2,-0.25,-0.3,-0.2,-0.1,-0.25,-0.3,-0.2,-0.25,-0.3,-0.2,-0.25],
  [-0.2,0.0,0.1,-0.1,0.05,0.0,-0.1,0.0,0.1,-0.1,0.0,-0.1,0.0,0.05,0.1,0.0,0.3,0.9,1.0,1.1,1.0,0.9,1.0,1.05,1.0,0.95,1.1,1.0,0.9,1.0,1.05,1.0,0.95,1.0,1.0,0.9,1.0,0.8,0.0,0.1,-0.1,0.0,0.05,-0.05,0.0,0.1,-0.1,0.0,0.05,0.0]
 ],
 [ // 12
  [0.0,0.05,0.0,-0.05,0.0,0.05,0.0,-0.05,-0.2,0.0,0.8,0.95,1.05,1.1,1.0,1.05,0.95,1.0,1.05,1.0,0.95,1.0,1.0,1.05,1.0,0.95,1.0,1.05,1.0,1.0,0.95,1.0,1.05,1.1,1.05,1.1,1.15,1.2,1.0,-0.1,-0.05,0.2,0.2,0.1,0.2,0.0,0.2,0.25,0.2,0.05]
 ],
 [ // 13
  [0.7,0.75,0.65,0.0,0.7,0.75,0.9,1.0,0.8,0.95,1.05,1.0,1.05,1.1,1.05,1.0,1.05,1.0,1.05,1.1,1.0,1.05,1.0,1.05,1.0,1.05,1.1,1.0,1.05,1.0,1.05,1.0,1.0,1.05,1.0,1.05,1.0,1.05,1.0,1.05,1.0,0.95,1.05,0.6,0.4,0.6,0.4,0.8,0.9,0.95]
 ],
 [ // 14
  [-1.0,-0.9,-1.1,-0.95,-1.0,-0.85,-1.05,-1.0,-0.9,-1.1,-1.0,-0.95,-1.05,-0.9,-1.0,-1.1,-0.95,-1.0,-1.05,-0.9,-1.0,-0.95,-1.1,-1.0,-0.9,-1.05,-1.0,-0.95,-1.0,0.1,0.45,0.2,0.1,0.0,0.15,0.0,0.1,-0.05,0.05,0.1,0.0,0.05,-0.1,0.1,0.0,0.2,-0.2,0.1,0.0,0.3,-0.1,0.05,0.2,-0.1,0.0,0.1,-0.05,0.05,0.0,0.1],
  [-0.95,-1.05,-1.0,-1.1,-0.9,-1.0,-1.05,-0.95,-1.0,-1.1,-0.95,-1.0,-0.9,-1.05,-1.0,-0.95,-1.1,-1.0,-1.05,-0.95,-1.0,-1.0,-1.1,-0.95,-1.05,-1.0,-0.9,-1.0,-0.95,-1.05,-1.0,-1.1,-0.95,-1.0,-1.05,-0.95,-1.0,-1.05,-0.9,-1.0,-1.1,-1.0,0.1,-0.2,0.3,0.0,-0.3,0.2,0.1,-0.1,0.25,-0.2,0.1,0.0,-0.15,0.2,0.0,-0.1,0.1,0.0],
  [-1.05,-1.0,-0.9,-1.0,-1.1,-0.95,-1.0,-0.9,-1.05,-1.0,-0.95,-1.1,-1.0,-0.95,-1.05,-1.0,-0.9,-1.0,-0.5,-0.95,-1.05,-1.0,-0.95,-1.0,-1.05,-1.0,-0.95,-1.1,-1.0,-0.95,-1.0,-1.05,-1.0,-0.9,-1.0,-1.05,-0.95,-1.0,-1.0,-1.1,-1.05,-1.15,0.2,0.0,-0.1,0.3,0.1,-0.3,0.0,0.2,-0.2,0.1,0.3,-0.1,0.0,0.15,-0.2,0.1,-0.05,0.1],
  [-0.9,-1.0,-1.05,-0.95,-1.0,-1.1,-0.9,-1.0,-1.05,-0.95,-1.0,-1.0,-1.1,-0.95,-1.0,-1.05,-0.95,-1.0,-1.0,-0.9,-1.05,-1.0,-0.95,-1.0,-1.1,-0.95,-1.0,-1.0,-0.9,-0.95,0.0,0.1,0.05,0.0,-0.05,0.1,0.0,0.05,-0.1,0.0,0.1,0.0,-0.2,0.2,-0.1,0.0,0.3,-0.2,0.1,0.0,-0.1,0.2,0.0,-0.3,0.1,0.0,0.2,-0.1,0.0,0.05]
 ],
 [ // 15
  [0.0,0.05,-0.05,0.0,0.05,-0.05,0.0,0.05,0.0,0.8,1.0,1.05,1.1,1.05,1.1,1.0,1.05,1.1,1.05,1.0,1.1,1.05,1.1,1.05,1.0,1.1,1.05,1.1,1.0,1.05,1.1,1.05,1.0,1.05,1.1,1.0,1.05,1.0,1.05,1.0,1.05,0.0,-0.05,0.05,0.0,-0.05,0.0,-0.3,0.05,0.0],
  [0.05,0.0,-0.05,0.0,0.0,0.05,-0.05,0.0,0.05,0.0,1.0,1.05,1.0,1.1,1.0,1.05,1.1,1.0,1.05,1.0,1.1,1.0,1.05,1.0,1.1,1.05,1.0,1.05,1.0,1.1,1.05,1.0,1.05,1.0,1.05,1.0,1.05,1.0,1.0,0.95,0.0,0.05,-0.05,0.0,0.05,0.0,-0.05,0.0,0.05,-0.05],
  [0.0,-0.05,0.05,0.0,-0.05,0.0,0.05,0.0,-0.05,0.0,0.05,0.0,-0.05,0.0,1.0,0.95,1.05,1.0,0.95,1.0,1.05,0.95,1.0,1.05,1.0,0.95,1.0,1.0,1.05,0.95,1.0,1.05,-0.05,0.0,0.05,0.0,-0.05,0.0,0.05,0.0,-0.05,0.05,0.0,-0.05,0.0,0.05,0.0,-0.1,0.05,0.0],
  [-0.05,0.0,0.05,0.0,-0.05,0.05,0.0,-0.05,0.0,0.05,0.0,-0.05,0.0,0.05,0.0,-0.05,0.0,0.05,0.1,0.0,0.9,1.0,1.05,1.0,0.95,1.0,1.05,1.0,0.95,1.0,1.05,1.0,0.95,1.0,1.05,1.0,0.95,1.05,1.0,1.0,0.9,0.05,0.0,-0.05,0.0,0.05,-0.05,0.0,0.05,0.0]
 ],
 [ // 16
  [0.1,0.1,0.25,0.15,0.1,0.1,0.1,-1.0,-1.05,-1.0,-1.05,-1.0,-1.05,-1.0,-1.0,-1.05,-1.0,-1.0,-0.95,-1.05,-1.0,-1.0,-0.95,-1.0,-1.0,-1.05,-1.0,-1.0,-1.05,-1.0,-1.0,-0.95,-1.0,-1.0,-1.05,-1.0,-1.0,-0.9,-0.8,-0.85,-0.7,-0.8,-0.6,-0.7,-0.45,-0.4,-0.2,-0.05,-0.2,-0.35]
 ],
 [ // 17
  [0.5,0.3,-0.6,0.0,-0.1,0.0,0.05,0.0,0.9,1.0,1.2,1.15,1.3,1.5,1.4,1.2,1.3,1.45,1.3,1.2,1.4,1.3,1.25,1.35,1.3,1.2,1.1,1.0,1.05,1.0,1.1,1.0,1.05,1.1,1.0,1.05,1.0,1.1,0.5,0.9,1.0,0.4,0.6,1.1,0.2,0.8,1.0,1.1,1.2,1.3],
  [0.6,-0.2,0.2,0.05,0.0,-0.05,0.0,0.05,0.0,-0.05,0.0,0.05,0.0,0.05,-0.05,0.0,0.05,0.0,-0.05,0.0,0.05,0.0,0.0,1.0,1.05,1.0,1.1,1.0,1.05,1.0,1.1,1.0,1.0,1.05,1.1,1.0,1.05,1.0,1.1,0.6,0.8,0.7,1.0,0.5,0.8,0.3,0.9,0.2,0.0,0.1],
  [0.0,0.4,-0.5,0.1,0.0,-0.05,0.05,0.0,-0.05,0.0,0.05,-0.05,0.0,0.05,0.0,-0.05,0.0,0.05,0.0,-0.05,0.0,0.05,0.0,-0.05,0.0,0.05,0.0,-0.05,0.0,0.05,0.0,-0.05,0.0,0.05,0.0,-0.05,0.0,0.1,0.0,0.2,-0.1,0.4,0.0,0.5,0.1,0.0,0.3,-0.1,0.0,0.05]
 ],
 [ // 18
  [0.5,0.45,0.3,0.5,0.3,0.4,0.5,0.8,1.0,0.95,1.0,1.05,1.0,0.95,1.0,1.05,1.0,1.0,0.95,1.05,1.0,1.0,0.95,1.0,1.05,1.0,1.0,0.95,1.0,1.05,1.0,0.95,1.0,1.05,1.0,1.0,1.05,1.0,1.05,0.6,0.5,0.8,0.55,0.6,0.5,0.8,0.7,0.5,0.6,0.0],
  [0.4,-0.1,0.0,0.1,0.0,-0.05,0.0,0.9,1.0,1.05,1.0,0.95,1.0,1.0,1.05,0.95,1.0,1.05,1.0,1.0,0.95,1.05,1.0,0.95,1.0,1.05,1.0,0.95,1.0,1.0,1.05,1.0,1.0,1.05,1.0,0.95,1.0,1.05,1.0,0.9,0.0,-0.2,0.0,0.2,0.0,-0.1,0.0,0.3,0.0,0.0]
 ],
 [ // 19
  [0.0,-0.05,0.0,-0.1,0.0,-0.05,0.0,-0.1,-0.05,0.0,-0.05,0.0,-0.1,-0.9,-1.0,-0.95,-1.0,-1.0,-1.05,-1.0,-1.0,-1.05,-1.0,-1.05,-1.0,-1.0,-1.05,-1.1,-1.0,-1.05,-1.0,-1.05,-1.0,-1.0,-0.6,-0.2,-0.8,-0.3,0.0,-0.6,-0.2,-0.7,-0.1,-0.5,0.1,-0.3,0.2,0.3,0.6,0.1],
  [-1.0,-1.1,-1.0,-0.95,-1.05,-1.0,-1.1,-1.0,-0.95,-1.0,-1.05,-1.0,-0.95,-1.0,-1.0,-1.05,-1.0,-1.0,-1.05,-1.0,-1.05,-1.0,-1.0,-1.05,-1.1,-1.0,-1.05,-1.0,-1.1,-1.0,-1.05,-1.0,-1.1,-1.15,-0.5,-0.8,-0.6,-0.7,-0.8,-0.75,-0.8,-0.85,-0.7,-0.8,-0.75,-0.85,-0.8,-0.7,-0.75,-0.6]
 ],
 [ // 20
  [0.0,0.05,-0.05,0.0,0.1,-0.1,0.0,0.05,-0.05,0.0,0.1,0.0,-0.1,0.05,1.0,1.1,1.0,1.15,0.95,1.05,1.2,1.0,1.1,0.9,1.05,1.15,1.0,1.1,0.95,1.2,1.05,1.0,1.1,1.15,1.0,0.8,0.2,1.2,-0.3,0.6,0.0,0.9,-0.5,0.3,-0.8,0.1,-0.4,-1.0,-0.2,-0.6],
  [0.1,-0.05,0.0,0.1,-0.1,0.05,0.0,-0.1,0.1,0.0,-0.05,0.1,0.0,-0.1,0.9,1.0,1.05,0.95,1.1,1.0,0.9,1.1,1.2,1.0,0.95,1.1,1.0,1.05,1.15,1.0,1.1,1.2,1.0,0.9,1.1,1.6,0.3,-0.2,0.9,0.4,1.1,-0.4,0.5,0.0,0.7,-0.9,-0.3,0.2,-1.3,-0.7],
  [1.0,0.95,1.05,1.0,1.1,0.95,1.0,1.05,0.9,1.0,0.95,1.05,1.0,0.95,1.05,1.1,1.0,0.95,1.1,1.05,1.0,1.1,0.95,1.05,1.0,1.1,1.05,0.95,1.0,1.1,1.0,1.05,1.1,1.0,1.05,0.4,1.1,0.5,-0.1,1.0,0.2,-0.6,0.6,1.7,0.1,-0.2,0.8,-0.5,-0.9,-0.3],
  [0.0,-0.1,0.05,0.0,-0.05,0.1,0.0,-0.1,0.0,0.05,-0.1,0.0,0.1,-0.05,0.0,0.05,0.0,-0.05,0.0,0.05,0.0,-0.05,0.0,0.05,0.1,0.0,-0.05,0.0,0.05,0.0,1.0,1.05,1.0,1.1,1.0,-0.3,0.5,0.1,-0.5,0.7,-0.2,0.3,-0.7,0.4,-1.1,0.0,-0.4,-0.8,-0.3,-1.2],
  [-0.05,0.1,0.0,-0.1,0.05,0.0,0.1,-0.05,0.0,0.1,-0.1,0.05,0.0,0.1,0.7,1.1,1.0,0.9,1.05,1.15,1.0,0.95,1.1,1.0,1.2,1.05,0.95,1.0,1.1,1.05,1.0,0.95,1.15,1.0,1.05,1.1,-0.1,0.6,0.2,-0.6,0.8,0.0,-0.3,0.9,-0.5,-0.1,-0.9,0.3,-0.6,-1.0]
 ],
 [ // 21
  [-0.95,-1.8,-1.8,-1.75,-1.0,-0.9,-0.95,-0.85,-0.75,-0.8,-0.85,-0.8,-0.9,-0.95,-0.9,-0.95,-1.0,-0.95,-0.9,-0.95,-1.0,-0.95,-1.0,-0.95,-0.9,-0.95,-1.0,-0.95,-0.95,-1.0,-0.95,-1.0,-0.95,-0.9,-0.95,-0.95,-0.95,-1.8,-1.1,-1.05,-1.1,-1.0,-0.9,-1.0,-0.85,-0.95,-0.8,-0.6,-0.4,-0.3]
 ],
 [ // 22
  [2.2,1.0,1.3,1.2,1.1,1.0,1.05,1.0,0.95,1.05,1.0,1.1,1.0,0.95,1.0,1.05,1.0,1.05,0.95,1.0,1.05,1.0,1.0,0.95,1.05,1.0,1.05,1.0,0.95,1.0,1.0,1.05,1.0,1.0,0.8,0.0,-0.3,0.9,0.3,1.1,0.0,1.3,0.7,0.2,1.0,-0.3,0.8,0.4,-0.2,0.0],
  [1.3,1.25,1.2,0.8,0.7,0.6,0.5,0.8,0.9,1.0,0.95,1.0,1.05,1.0,0.95,1.0,1.05,1.0,0.0,0.95,1.0,1.0,1.05,1.0,1.0,1.05,1.0,1.0,0.95,1.0,1.05,1.0,0.9,1.0,0.7,0.4,1.2,0.0,1.0,0.5,1.4,0.3,0.9,-0.1,1.2,0.6,0.2,0.9,0.5,1.0],
  [0.0,0.4,-0.2,0.1,0.0,-0.1,0.05,0.0,-0.05,0.0,0.05,0.0,-0.1,0.0,0.05,0.0,-0.05,0.0,0.0,0.05,0.0,-0.1,0.0,0.05,0.0,0.05,0.0,-0.05,0.0,0.05,0.0,0.0,-0.05,0.0,0.1,0.3,0.5,-0.2,0.0,0.6,0.1,-0.3,0.2,0.0,0.5,-0.1,0.3,0.0,0.1,0.0],
  [0.3,0.2,0.5,0.1,0.2,0.6,0.9,1.0,1.05,1.0,1.1,1.0,0.9,1.0,0.95,1.0,0.0,0.1,0.95,1.0,1.05,1.0,1.0,1.05,1.0,1.0,1.05,1.0,1.0,0.95,1.3,1.9,1.85,1.9,1.4,1.2,-0.2,0.8,1.3,0.2,0.7,1.1,-0.3,0.5,1.0,0.3,-0.1,0.9,0.2,0.4],
  [1.0,1.2,1.1,1.0,1.1,1.0,0.95,1.05,1.0,1.1,1.0,1.05,0.95,1.0,1.05,1.1,1.0,0.95,1.05,1.0,1.0,1.05,0.95,1.0,1.05,1.0,0.95,1.0,1.05,1.0,1.0,0.95,1.0,1.05,0.9,1.0,0.6,1.4,0.8,0.1,1.2,0.9,0.4,1.5,0.8,1.0,0.2,1.3,0.7,1.1]
 ],
 [ // 23
  [0.0,-0.05,0.0,0.05,0.0,-0.05,0.0,-0.3,-0.7,-0.5,-0.9,-1.2,-1.0,-1.05,-1.0,-1.05,-1.0,-1.0,-1.05,-1.0,-0.95,-1.0,-1.05,-1.0,-1.0,-0.95,-1.0,-1.05,-1.0,-1.0,-0.95,-1.0,-1.05,-1.0,-0.95,-0.8,-0.7,-0.6,-0.4,-0.3,-0.1,0.0,0.2,0.1,0.05,0.0,0.1,0.0,-0.05,-0.1],
  [0.0,0.05,0.0,-0.05,0.0,0.05,0.0,-0.1,-0.5,-0.8,-0.7,-1.0,-1.1,-1.0,-1.05,-1.0,-1.05,-1.0,-1.0,-1.05,-1.0,-1.05,-1.0,-0.95,-1.0,-1.05,-1.0,-1.0,-1.05,-1.0,-1.0,-1.05,-1.0,-1.0,-1.0,-0.9,-1.0,-0.8,-0.6,-0.5,-0.2,0.1,0.15,0.0,0.1,0.05,0.0,-0.05,0.05,0.0],
  [-0.05,0.0,0.05,0.0,-0.05,0.0,0.05,-0.5,-0.6,-0.9,-0.8,-1.1,-1.05,-1.0,-1.0,-1.05,-1.0,-1.05,-1.0,-1.0,-1.05,-1.0,-0.95,-1.0,-1.05,-1.0,-1.0,-1.05,-1.0,-0.95,-1.0,-1.0,-1.05,-0.95,-1.0,-0.7,-0.9,-0.5,-0.7,-0.3,-0.2,0.1,0.0,0.2,0.0,0.1,0.0,0.05,-0.1,0.0]
 ],
 [ // 24
  [0.0,0.05,-0.05,0.0,0.05,0.0,-0.05,2.2,1.6,1.0,0.95,1.0,1.05,1.0,0.95,1.0,1.1,1.05,1.0,1.1,1.0,1.05,1.15,1.0,1.1,1.05,1.0,1.1,1.05,1.0,0.95,1.0,0.9,0.95,1.0,0.9,0.85,0.8,0.9,0.7,0.6,0.0,0.05,-0.05,0.0,0.05,0.0,-0.05,0.0,-0.05],
  [0.05,-0.05,0.0,0.05,0.0,-0.05,0.0,1.3,0.8,0.7,1.5,1.45,1.0,0.9,1.0,1.05,1.0,0.95,1.0,1.05,1.1,1.0,1.05,1.0,1.1,1.15,1.05,1.0,1.1,1.0,0.95,1.05,1.0,1.0,0.95,1.0,1.05,1.0,1.0,1.1,1.05,1.15,1.1,1.05,1.2,0.9,0.0,-0.05,0.05,0.0],
  [0.0,-0.05,0.05,0.0,-0.05,0.0,0.05,0.7,1.0,1.0,1.1,1.0,1.05,0.95,1.0,1.05,1.0,1.1,1.0,0.95,1.0,1.05,1.2,1.1,1.05,1.15,1.2,1.1,1.0,1.05,1.1,1.0,1.05,0.95,1.0,0.95,0.9,0.8,0.9,1.0,0.6,0.5,0.1,0.0,0.05,-0.05,0.0,0.05,-0.1,0.0],
  [0.05,0.0,-0.05,0.0,0.05,-0.05,0.0,0.05,-0.1,0.0,0.05,0.0,-0.05,0.0,0.05,0.1,0.0,-0.05,0.0,0.05,0.0,-0.05,0.0,0.1,0.0,-0.05,0.05,0.0,-0.1,0.0,0.05,0.0,-0.05,0.0,0.85,1.0,0.95,1.0,0.9,1.0,0.7,0.0,-0.05,0.05,0.0,-0.1,0.05,0.0,-0.05,0.0]
 ],
 [ // 25
  [-0.1,0.2,-0.3,0.1,-0.5,-0.2,0.0,-0.7,-0.3,-0.1,-0.6,-0.2,0.1,-0.4,-0.9,-1.1,-1.0,-1.2,-1.05,-1.1,-1.0,-1.15,-1.1,-1.0,-1.2,-1.1,-1.05,-1.1,-1.0,-1.15,-1.1,-1.0,-1.05,-1.1,-1.0,-0.2,0.0,0.1,-0.05,0.0,0.05,-0.1,0.0,0.05,0.0,-0.05,0.0,0.05,0.0,-0.05],
  [-0.3,-0.5,0.0,-0.8,-0.2,-0.9,-0.5,0.2,-1.0,-0.4,-1.1,-0.6,-0.3,-1.0,-1.2,-1.0,-1.15,-1.1,-1.0,-1.2,-1.1,-1.05,-1.15,-1.0,-1.1,-1.2,-1.05,-1.0,-1.1,-1.15,-1.0,-1.1,-1.2,-1.05,-1.1,-0.9,-1.0,-0.95,-1.0,-1.05,-0.9,-1.0,-0.95,-1.0,-0.9,-1.05,-1.0,-0.95,-0.9,-1.0],
  [0.0,-0.2,0.3,-0.1,0.0,0.2,-0.6,-0.1,-0.5,0.1,-0.3,-0.8,-0.2,-0.6,-1.0,-1.1,-1.2,-1.05,-1.15,-1.0,-1.1,-1.2,-1.05,-1.15,-1.1,-1.0,-1.1,-1.15,-1.05,-1.2,-1.1,-1.0,-1.15,-1.1,-1.05,-0.1,0.05,0.0,-0.1,0.0,0.1,0.0,-0.05,0.0,0.1,-0.05,0.0,0.1,0.0,0.05],
  [-0.2,0.0,-0.4,-0.1,-0.7,-0.3,0.1,-0.5,-0.2,-0.8,-0.1,-0.4,-1.0,-0.3,-0.8,-1.05,-1.1,-1.0,-1.15,-1.05,-1.2,-1.1,-1.0,-1.05,-1.15,-1.1,-1.2,-1.05,-1.1,-1.0,-1.15,-1.05,-1.1,-1.0,-1.1,-1.0,-1.1,-1.0,-1.05,-0.95,-1.1,-1.0,-0.95,-1.05,-1.0,-1.1,-0.95,-1.0,-1.05,-0.9]
 ],
 [ // 26
  [0.0,0.3,-0.2,0.5,0.2,0.8,0.3,1.2,0.6,0.9,0.3,1.1,0.7,0.4,1.3,0.8,1.0,0.6,1.2,0.9,0.5,1.1,0.7,0.9,0.6,1.0,0.8,1.0,1.05,0.95,1.0,1.05,1.1,1.0,1.05,1.1,1.0,1.05,1.15,1.1,1.2,1.15,1.3,1.2,1.25,1.3,1.35,1.2,1.3,1.25],
  [0.1,0.2,-0.3,0.0,0.4,-0.1,0.2,0.0,0.3,-0.2,0.1,0.0,0.2,0.4,0.0,-0.1,0.1,0.0,0.05,0.1,0.0,-0.1,0.05,0.0,0.1,0.0,-0.05,0.1,0.6,0.0,0.1,-0.1,0.0,0.05,0.0,0.1,0.0,-0.05,0.0,0.05,0.1,0.0,-0.05,0.0,0.1,0.05,0.0,-0.1,0.0,0.05]
 ],
 [ // 27
  [0.0,-0.05,0.05,0.0,-0.05,0.0,0.05,0.0,-0.1,0.0,0.05,0.0,-0.7,-0.9,-1.0,-1.05,-1.0,-1.05,-1.0,-1.0,-1.05,-1.0,-0.95,-1.0,-1.0,-1.05,-1.0,-1.0,-0.95,-1.0,-1.05,-1.0,-1.0,-1.05,-0.5,-0.2,0.0,-0.1,0.05,0.0,-0.05,0.0,0.05,-0.05,0.0,0.05,0.0,-0.05,0.0,0.05],
  [0.05,0.0,-0.05,0.0,0.05,-0.05,0.0,0.0,0.05,-0.05,0.0,-0.2,-0.8,-0.75,-1.0,-0.95,-1.0,-1.05,-1.0,-0.95,-1.0,-1.05,-1.0,-1.0,-0.95,-1.0,-1.05,-1.0,-1.0,-0.95,-1.0,-1.0,-1.05,-0.6,-0.9,-0.4,0.05,0.0,-0.05,0.0,0.05,0.0,-0.05,0.0,0.05,0.0,-0.05,0.0,0.05,0.0]
 ],
 [ // 28
  [0.0,-0.05,0.0,0.05,0.0,-0.05,0.0,0.05,0.0,-0.05,0.0,-1.0,-1.05,-1.0,-0.95,-1.0,-1.05,-1.0,-1.0,-0.95,-1.0,-1.05,-1.0,-1.0,-1.05,-1.0,-0.95,-1.0,-1.0,-1.05,-1.0,-1.0,-0.95,-1.0,-1.05,-1.0,-1.0,-0.95,-1.0,0.0,0.05,0.0,-0.05,0.0,0.05,0.0,-0.05,0.0,0.05,0.0],
  [0.05,0.0,-0.05,0.0,0.05,0.0,-0.05,0.0,0.05,0.0,-0.05,-1.05,-1.0,-1.0,-1.05,-1.0,-0.95,-1.0,-1.05,-1.0,-1.0,-1.05,-0.95,-1.0,-1.0,-1.05,-1.0,-1.0,-1.05,-0.95,-1.0,-1.0,-1.05,-1.0,-0.95,-1.0,-1.05,-1.0,-1.0,-0.05,0.0,0.05,-0.05,0.0,0.05,-0.05,0.0,0.05,-0.05,0.05]
 ],
 [ // 29
  [0.0,0.05,-0.05,0.0,0.05,0.0,-0.05,0.0,0.05,0.0,-0.05,1.0,1.05,1.1,1.05,1.0,1.05,1.1,1.0,1.05,1.0,1.1,1.05,1.0,1.05,1.1,1.0,1.05,1.0,1.05,1.1,1.0,1.05,1.0,1.05,1.0,1.1,1.0,1.05,0.0,-0.05,0.05,0.0,-0.05,0.0,0.05,-0.15,-0.1,0.0,0.05],
  [0.05,0.0,0.0,-0.05,0.0,0.05,0.0,-0.05,0.0,0.05,0.0,1.05,1.0,1.05,1.1,1.0,1.0,1.05,1.1,1.0,1.05,1.05,1.0,1.1,1.0,1.05,1.0,1.1,1.05,1.0,1.0,1.05,1.0,1.1,1.0,1.05,1.0,1.05,1.0,0.05,0.0,-0.05,0.0,0.05,-0.05,0.0,0.05,0.0,-0.1,0.0]
 ],
 [ // 30
  [0.0,0.0,0.05,0.9,1.1,0.8,1.0,0.4,1.1,0.7,-0.95,-1.0,-0.95,-1.0,-0.95,-0.95,-1.0,-0.95,-0.95,-0.95,-1.0,-0.95,-0.95,-0.95,-0.9,-0.95,-0.95,-0.95,-0.95,-0.9,-0.95,-0.95,-0.9,-0.95,-0.95,-0.95,-0.9,-0.95,-1.0,-1.0,-1.1,1.0,1.4,0.7,-0.1,-0.05,-0.15,-0.1,-0.2,-0.1]
 ],
 [ // 31
  [0.0,0.0,0.05,0.95,0.8,0.5,0.95,0.6,0.7,1.0,2.2,1.1,1.1,1.05,1.1,1.05,1.1,1.15,1.1,1.05,1.1,1.0,1.05,1.1,1.05,1.0,1.05,1.1,1.05,1.0,1.1,1.05,1.05,1.0,1.05,1.0,1.0,1.0,0.95,0.95,0.95,2.2,1.3,0.4,0.1,0.05,0.1,0.15,0.1,0.0]
 ]
];

// ---------------- style ----------------
const FONT = "'Liberation Sans', Arial, Helvetica, sans-serif";
const DEL_LINE = '#d53b28', DUP_LINE = '#2a79b6';
const DEL_SUB = '#e04a3a', DUP_SUB = '#3b8ace';
const GD_DEL = '#cc3a28', GD_DUP = '#2776af';
const SEG_COLOR = '#f37d20';
const BAND95 = '#e5e5e5', BAND50 = '#c8c8c8', MEDIAN = '#a8a8a8';
const TRACK_EDGE = '#c4c4c4';
const rowTops = [0, 207, 415, 622, 833, 1040, 1248];
const CANVAS_W = 262, CANVAS_H = 208;

function binPoints(vals, x0, x1, sign) {
  const w = (x1 - x0) / vals.length;
  const pts = vals.map((v, k) => ({x: x0 + k * w, y: sign * v}));
  pts.push({x: x1, y: sign * vals[vals.length - 1]});
  return pts;
}

const wrap = document.getElementById('wrap');

for (let i = 0; i < panelTitles.length; i++) {
  const row = Math.floor(i / 5), col = i % 5;
  const isDel = svTypes[i] === 'DEL';
  const x0 = xMinMb[i], x1 = xMaxMb[i], R = x1 - x0;
  const lineColor = isDel ? DEL_LINE : DUP_LINE;
  const gdColor = isDel ? GD_DEL : GD_DUP;
  const sbEnd = x1 - 0.014 * R;
  const sbStart = sbEnd - scaleBarKb[i] / 1000;
  const gd = gdMb[i];
  const darkBase = col >= 2 && row >= 1;

  const panel = document.createElement('div');
  panel.className = 'panel';
  panel.style.left = (col * 245) + 'px';
  panel.style.top = rowTops[row] + 'px';
  const cv = document.createElement('canvas');
  cv.width = CANVAS_W; cv.height = CANVAS_H;
  cv.style.width = CANVAS_W + 'px'; cv.style.height = CANVAS_H + 'px';
  const t = document.createElement('div'); t.className = 'ttl'; t.innerHTML = panelTitles[i];
  const s = document.createElement('div'); s.className = 'sub'; s.textContent = carrierLabels[i];
  s.style.color = isDel ? DEL_SUB : DUP_SUB;
  panel.appendChild(cv); panel.appendChild(t); panel.appendChild(s);
  wrap.appendChild(panel);

  const ds = [];
  carrierTraces[i].forEach(tr => ds.push({
    data: binPoints(tr, x0, x1, 1), borderColor: lineColor, borderWidth: 1, stepped: true,
    pointRadius: 0, fill: false, yAxisID: 'y', order: 1
  }));
  ds.push({data: [{x: sbStart, y: 1.9}, {x: sbEnd, y: 1.9}], borderColor: '#000', borderWidth: 3.5,
    borderCapStyle: 'butt', pointRadius: 0, fill: false, yAxisID: 'y', order: 0});
  ds.push({data: [{x: x0, y: 0}, {x: x1, y: 0}], borderColor: MEDIAN, borderWidth: 2,
    pointRadius: 0, fill: false, yAxisID: 'y', order: 2});
  ds.push({data: binPoints(nonCarrier50[i], x0, x1, 1), borderColor: 'rgba(0,0,0,0)', borderWidth: 0.01,
    stepped: true, pointRadius: 0, fill: false, yAxisID: 'y', order: 3});
  ds.push({data: binPoints(nonCarrier50[i], x0, x1, -1), borderColor: 'rgba(0,0,0,0)', borderWidth: 0.01,
    stepped: true, pointRadius: 0, fill: '-1', backgroundColor: BAND50, yAxisID: 'y', order: 3});
  ds.push({data: binPoints(nonCarrier95[i], x0, x1, 1), borderColor: 'rgba(0,0,0,0)', borderWidth: 0.01,
    stepped: true, pointRadius: 0, fill: false, yAxisID: 'y', order: 4});
  ds.push({data: binPoints(nonCarrier95[i], x0, x1, -1), borderColor: 'rgba(0,0,0,0)', borderWidth: 0.01,
    stepped: true, pointRadius: 0, fill: '-1', backgroundColor: BAND95, yAxisID: 'y', order: 4});
  segDupMb[i].forEach(sg => ds.push({data: [{x: sg[0], y: 1}, {x: sg[1], y: 1}], borderColor: 'rgba(0,0,0,0)',
    borderWidth: 0.01, pointRadius: 0, fill: {value: 0}, backgroundColor: SEG_COLOR, yAxisID: 'ys', order: 6}));
  ds.push({data: [{x: x0, y: 0}, {x: x1, y: 0}, {x: x1, y: 1}, {x: x0, y: 1}, {x: x0, y: 0}],
    borderColor: TRACK_EDGE, borderWidth: 1.2, pointRadius: 0, fill: false, yAxisID: 'ys', order: 5});
  ds.push({data: [{x: gd[0], y: 1}, {x: gd[1], y: 1}], borderColor: 'rgba(0,0,0,0)', borderWidth: 0.01,
    pointRadius: 0, fill: {value: 0}, backgroundColor: gdColor, yAxisID: 'yg', order: 6});
  ds.push({data: [{x: x0, y: 0}, {x: x1, y: 0}, {x: x1, y: 1}, {x: x0, y: 1}, {x: x0, y: 0}],
    borderColor: TRACK_EDGE, borderWidth: 1.2, pointRadius: 0, fill: false, yAxisID: 'yg', order: 5});

  const decor = {
    id: 'decor',
    afterDatasetsDraw(chart) {
      const ctx = chart.ctx, xs = chart.scales.x, ym = chart.scales.y, yg = chart.scales.yg;
      ctx.save();
      if (darkBase) {
        const yy = Math.round(ym.getPixelForValue(-2)) + 0.5;
        ctx.strokeStyle = '#4a4a4a'; ctx.lineWidth = 1;
        ctx.beginPath(); ctx.moveTo(chart.chartArea.left, yy); ctx.lineTo(chart.chartArea.right, yy); ctx.stroke();
      }
      ctx.font = '12px ' + FONT;
      ctx.textAlign = 'center'; ctx.textBaseline = 'middle'; ctx.fillStyle = '#ffffff';
      ctx.fillText(gdLabels[i], xs.getPixelForValue((gd[0] + gd[1]) / 2), yg.getPixelForValue(0.5) + 0.5);
      ctx.fillStyle = '#111'; ctx.textBaseline = 'alphabetic';
      ctx.fillText(scaleBarKb[i] + 'kb', xs.getPixelForValue((sbStart + sbEnd) / 2), ym.getPixelForValue(1.9) - 4);
      ctx.restore();
    }
  };

  new Chart(cv.getContext('2d'), {
    type: 'line',
    data: {datasets: ds},
    plugins: [decor],
    options: {
      responsive: false, animation: false, events: [], devicePixelRatio: 1,
      layout: {padding: {top: 35, right: CANVAS_W - 241, left: 0, bottom: 0}},
      plugins: {legend: {display: false}, tooltip: {enabled: false}, title: {display: false}},
      scales: {
        x: {
          type: 'linear', min: x0, max: x1, position: 'bottom',
          afterBuildTicks: sc => { sc.ticks = xTickMb[i].map(v => ({value: v})); },
          afterFit: sc => { sc.height = 36; sc.paddingLeft = 0; sc.paddingRight = 0; },
          ticks: {callback: v => Number(v).toFixed(1), font: {size: 12, family: FONT}, color: '#222',
            padding: 1, maxRotation: 0, minRotation: 0, autoSkip: false},
          grid: {display: true, drawOnChartArea: false, drawTicks: true, tickLength: 4, color: '#9a9a9a', tickColor: '#9a9a9a', tickWidth: 1.2},
          border: {display: true, color: '#9a9a9a', width: 1.8},
          title: {display: true, text: chromNames[i] + ' Coord. (Mb)', font: {size: 15, family: FONT}, color: '#222', padding: {top: 0, bottom: 0}}
        },
        y: {
          type: 'linear', min: -2, max: 2.25, position: 'left', stack: 'panel', stackWeight: 102, weight: 3,
          afterBuildTicks: sc => { sc.ticks = [-2, -1, 0, 1, 2].map(v => ({value: v})); },
          afterFit: sc => { sc.width = 67; sc.paddingTop = 0; sc.paddingBottom = 0; },
          ticks: {callback: v => { const n = Math.round(v); return n > 0 ? '+' + n : (n < 0 ? '\u2212' + Math.abs(n) : '0'); },
            font: {size: 13, family: FONT}, color: '#222', padding: 2, autoSkip: false},
          grid: {color: c => (c.tick && [2, 1, -1].includes(Math.round(c.tick.value))) ? '#d4d4d4' : 'rgba(0,0,0,0)',
            tickColor: '#222', tickLength: 4, lineWidth: 1, drawTicks: true},
          border: {display: true, color: '#222', width: 1, dash: [3, 3]},
          title: {display: true, text: ['Change in', 'Copy Number'], font: {size: 15, family: FONT, lineHeight: 1.1},
            color: '#222', padding: {top: 10, bottom: 0}}
        },
        ys: {
          type: 'linear', min: -0.27, max: 1.61, position: 'left', stack: 'panel', stackWeight: 17.5, weight: 2,
          afterBuildTicks: sc => { sc.ticks = [{value: 0.5}]; },
          afterFit: sc => { sc.width = 67; sc.paddingTop = 0; sc.paddingBottom = 0; },
          ticks: {callback: () => 'SegDup', font: {size: 13, family: FONT}, color: '#222', padding: 3, autoSkip: false},
          grid: {display: false, drawTicks: false, drawOnChartArea: false},
          border: {display: false}
        },
        yg: {
          type: 'linear', min: -0.55, max: 1.26, position: 'left', stack: 'panel', stackWeight: 17.5, weight: 1,
          afterBuildTicks: sc => { sc.ticks = [{value: 0.5}]; },
          afterFit: sc => { sc.width = 67; sc.paddingTop = 0; sc.paddingBottom = 0; },
          ticks: {callback: () => 'GD', font: {size: 13, family: FONT}, color: '#222', padding: 3, autoSkip: false},
          grid: {display: false, drawTicks: false, drawOnChartArea: false},
          border: {display: false}
        }
      }
    }
  });
}

// ---------------- legend ----------------
const legendLeft = [
  {text: 'gnomAD-SV deletion carrier', icon: 'stepDel', y: 1311},
  {text: 'gnomAD-SV duplication carrier', icon: 'stepDup', y: 1334},
  {text: 'Median of gnomAD-SV non-carriers', icon: 'median', y: 1357},
  {text: 'Middle 50% of gnomAD-SV non-carriers', icon: 'b50', y: 1380},
  {text: 'Middle 95% of gnomAD-SV non-carriers', icon: 'b95', y: 1403}
];
const legendRight = [
  {html: 'Segmental duplications', color: SEG_COLOR, y: 1331},
  {html: 'Reported GD coordinates', color: GD_DEL, y: 1356},
  {html: '(Owen <i>et al.</i>, 2018)', color: GD_DUP, y: 1374}
];
const lg = document.createElement('div'); lg.id = 'legend'; wrap.appendChild(lg);
function iconSvg(kind) {
  if (kind === 'stepDel' || kind === 'stepDup') {
    const c = kind === 'stepDel' ? DEL_LINE : DUP_LINE;
    return '<svg width="18" height="16"><path d="M2 14 V9 H5 V3 H10 V12 H13 V6 H16" fill="none" stroke="' + c + '" stroke-width="2.4"/></svg>';
  }
  if (kind === 'median') return '<svg width="18" height="16"><line x1="1" y1="8" x2="17" y2="8" stroke="' + MEDIAN + '" stroke-width="3"/></svg>';
  if (kind === 'b50') return '<svg width="18" height="16"><rect x="1" y="2" width="16" height="12" fill="' + BAND50 + '"/></svg>';
  return '<svg width="18" height="16"><rect x="1" y="2" width="16" height="12" fill="' + BAND95 + '"/></svg>';
}
legendLeft.forEach(it => {
  const ic = document.createElement('div'); ic.className = 'ic';
  ic.style.left = '621px'; ic.style.top = (it.y - 8) + 'px'; ic.innerHTML = iconSvg(it.icon);
  wrap.appendChild(ic);
  const tx = document.createElement('div'); tx.className = 'li';
  tx.style.left = '646px'; tx.style.top = (it.y - 9) + 'px'; tx.textContent = it.text;
  wrap.appendChild(tx);
});
legendRight.forEach(it => {
  const sq = document.createElement('div'); sq.className = 'ic';
  sq.style.left = '970px'; sq.style.top = (it.y - 7) + 'px';
  sq.style.width = '14px'; sq.style.height = '14px'; sq.style.background = it.color;
  wrap.appendChild(sq);
  const tx = document.createElement('div'); tx.className = 'li';
  tx.style.left = '990px'; tx.style.top = (it.y - 9) + 'px'; tx.innerHTML = it.html;
  wrap.appendChild(tx);
});
</script>
</body></html>
